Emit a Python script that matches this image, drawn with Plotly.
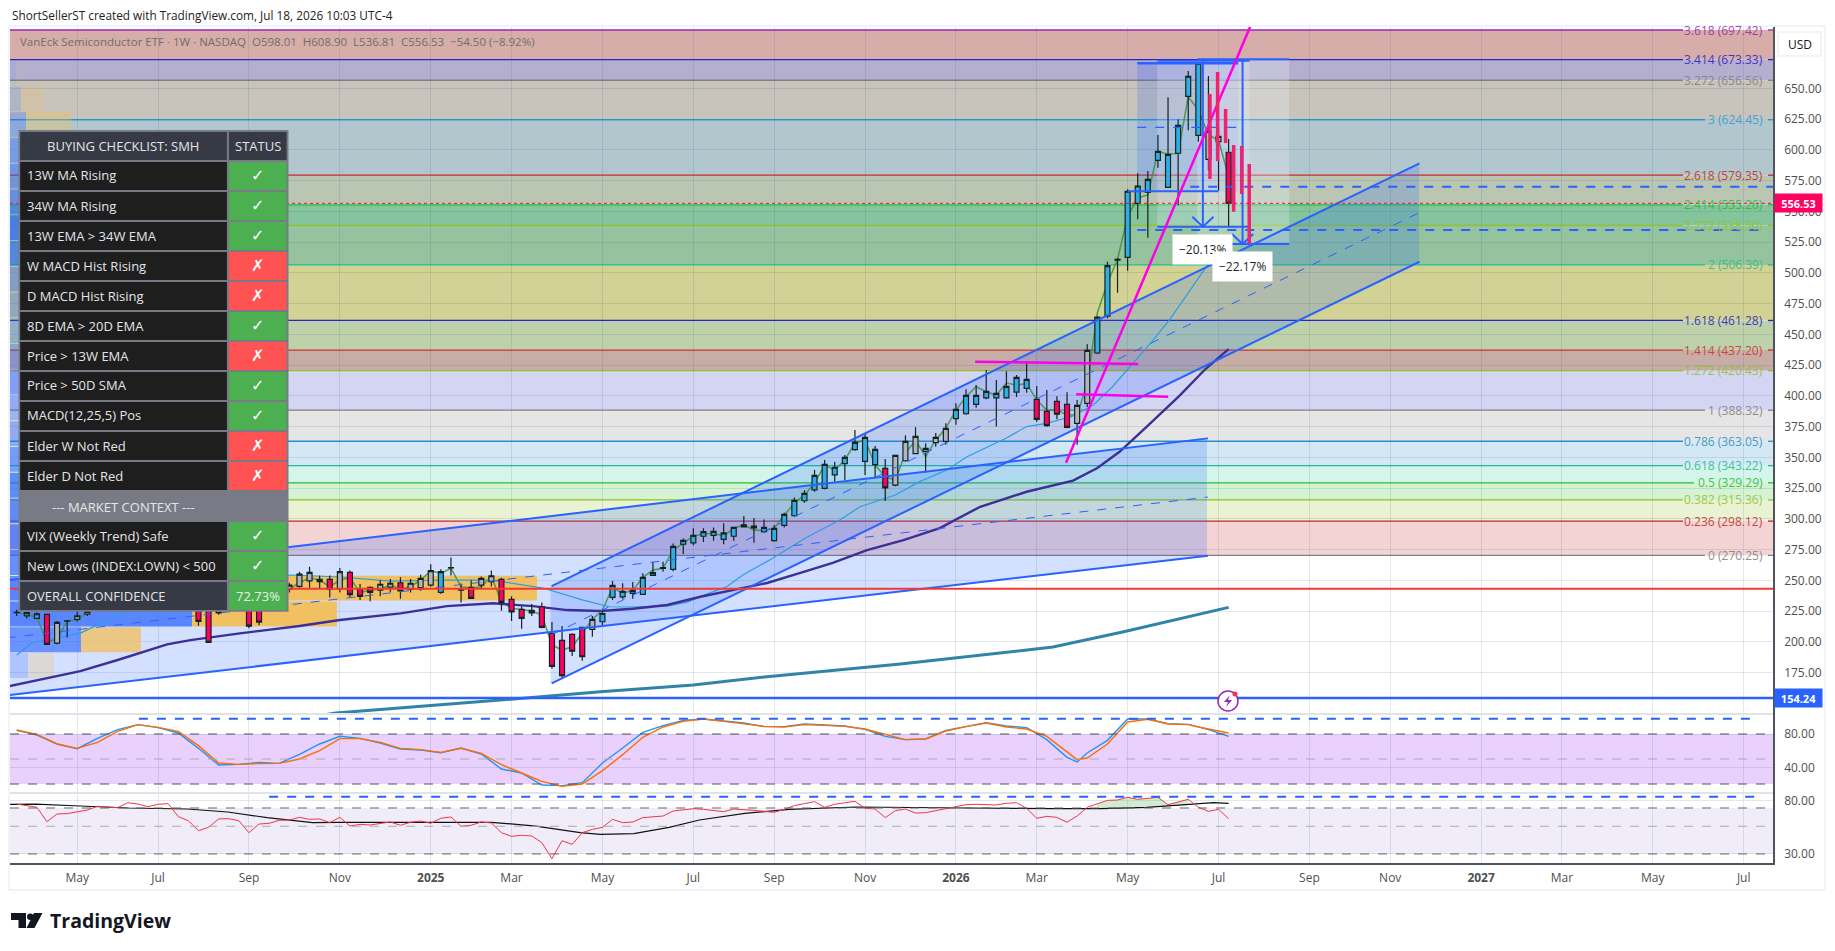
import pandas as pd
import plotly.graph_objects as go

W, H = 1835, 951
FONT = "Open Sans"
LAST_WEEK = pd.Timestamp("2026-07-13")

# weekly candles, oldest first (weeks before the last bar), hidden ones under the table are left out
bar_weeks = [120, 119, 118, 117, 116, 115, 114, 113, 102, 101, 100, 97, 96, 93, 92, 91, 90, 89, 88, 87, 86, 85, 84, 83, 82, 81, 80, 79, 78, 77, 76, 75, 74, 73, 72, 71, 70, 69, 68, 67, 66, 65, 64, 63, 62, 61, 60, 59, 58, 57, 56, 55, 54, 53, 52, 51, 50, 49, 48, 47, 46, 45, 44, 43, 42, 41, 40, 39, 38, 37, 36, 35, 34, 33, 32, 31, 30, 29, 28, 27, 26, 25, 24, 23, 22, 21, 20, 19, 18, 17, 16, 15, 14, 13, 12, 11, 10, 9, 8, 7, 6, 5, 4, 3, 2, 1, 0]
opens = [223.8, 221, 219, 222.3, 198.9, 216.7, 218.2, 222.5, 226, 226, 228, 235, 232, 242.7, 245, 249.6, 248.9, 250.8, 243.1, 256.5, 242.6, 244.2, 242, 244.4, 248, 242.7, 244, 246.1, 240.2, 260, 242, 244.2, 246.1, 249, 250.8, 234.5, 226.4, 225.6, 228.5, 206.9, 201.2, 206.1, 211.7, 210.1, 216.3, 236.2, 236.6, 239.4, 238.6, 254, 259.7, 258.9, 279.3, 280.5, 285.8, 286.5, 283.3, 285.8, 293.5, 292.7, 289.5, 282.2, 294.7, 302.5, 314.7, 323.6, 324.8, 335.8, 344.8, 356.2, 346.7, 344, 341, 327.4, 347.2, 353, 354.9, 361.9, 363, 381.4, 385.4, 393, 398.4, 398.4, 398.4, 403, 406, 397.1, 387.4, 395.5, 393, 377.6, 393.9, 434.8, 464.8, 510.4, 512.6, 556.5, 565.4, 591.5, 569.5, 597.2, 643.5, 611.8, 592.3, 606.6, 598.01]
highs = [226, 224.5, 224, 223, 217, 217.7, 225, 227, 229, 229, 230, 238, 235, 248, 257, 261, 254, 254, 260, 258, 247, 245, 250, 251, 252.4, 251, 254.5, 263, 259, 268.6, 247.5, 250, 253, 258, 252, 237, 229, 230.7, 232, 216, 212.8, 207, 212.3, 220.9, 226, 249.4, 247.6, 248.6, 255.7, 264.8, 265, 280, 284, 292.3, 292.3, 293, 296.3, 293.6, 302.3, 300.6, 299.5, 295, 305, 317.4, 323.3, 339.7, 347.8, 346.4, 351.8, 372.2, 368.9, 359.2, 348.6, 352, 368, 374.4, 361.4, 369.7, 377.6, 394, 405.3, 408.8, 421, 412.8, 420, 417, 428.3, 407.9, 404.7, 399.6, 402.8, 396.6, 441.9, 464.5, 509, 512, 568, 580.9, 582.8, 612, 642.7, 624.8, 664, 671, 660, 618.8, 608.9]
lows = [221, 219, 218.5, 197.5, 198, 203.5, 216.5, 221, 213, 199, 222, 211, 213.4, 240, 244, 244, 243, 236, 240, 236, 234, 233, 237, 240.5, 235, 240, 241.6, 244.8, 239, 254, 231.9, 235, 243, 245, 225.2, 217, 210.6, 220.9, 211, 178, 169.7, 188.4, 184.6, 204.1, 213.4, 234, 234.5, 235, 238, 254, 257, 257.3, 271.4, 278.4, 281.1, 282.2, 279.3, 282.2, 293, 280.5, 288.7, 281.4, 293, 301.7, 313.1, 322, 324, 330.1, 331.5, 355.4, 335.6, 333, 314.4, 326.5, 346.4, 352.4, 337.5, 358.6, 360.2, 376.5, 384.6, 390.3, 397.2, 375, 397.6, 399, 402.5, 379, 374.9, 381, 373.6, 360.2, 391, 434, 463, 483.8, 501.7, 543.5, 528.5, 585.4, 569, 555, 616, 606.6, 583, 567, 536.81]
closes = [223.9, 223.8, 222.8, 197.9, 215.8, 217, 221.2, 224.7, 216.6, 199.5, 223.4, 212.7, 216, 246.1, 255, 256.5, 250.8, 242.7, 257, 238.3, 237, 240.2, 246.8, 247.6, 241.3, 247.6, 251.6, 257.8, 257, 260.4, 242.5, 235.3, 251.6, 253.7, 232, 224.4, 219, 223.6, 211.7, 180, 172.4, 192.3, 188, 218.3, 223, 245.9, 241, 241.8, 252.4, 256.2, 260.4, 277.6, 282.5, 286.5, 289.5, 289.8, 288.6, 293, 295, 294.1, 293, 292.3, 303.6, 315, 320.7, 335.3, 344.3, 341.9, 350, 362.2, 366.2, 356.4, 325.2, 351.6, 363, 367, 357.3, 366.2, 373.6, 389, 400.4, 400.4, 403.6, 402, 407.7, 415, 413.4, 380.9, 375.7, 385, 374.4, 392.3, 437, 464, 505.8, 511, 566.3, 570.6, 576, 598.8, 596.3, 619.9, 659.8, 670.3, 615, 611, 556.53]
tones = list("gbbpggggppgppggggpgpppggpgggbggpggppppppppp" "gbbbbbbgbbbbbbbggbbbbbbbbbbbbp" "ggggggbbbbbbbbppppggbbgbbbbbbbbggp")

# thin green close-type line
close_line_weeks = [120, 119, 118, 117, 116, 115, 114, 113, 103, 93, 92, 91, 90, 89, 88, 87, 86, 85, 84, 83, 82, 81, 80, 79, 78, 77, 76, 75, 74, 73, 72, 71, 70, 69, 68, 67, 66, 65, 64, 63, 62, 61, 60, 59, 58, 57, 56, 55, 54, 53, 52, 51, 50, 49, 48, 47, 46, 45, 44, 43, 42, 41, 40, 39, 38, 37, 36, 35, 34, 33, 32, 31, 30, 29, 28, 27, 26, 25, 24, 23, 22, 21, 20, 19, 18, 17, 16, 15, 14, 13, 12, 11, 10, 9, 8, 7, 6, 5, 4, 3, 2, 1, 0]
close_line = [224, 222, 220, 200, 202, 217, 218, 224, None, 243, 248, 252, 250, 245, 250, 252, 240, 242, 243, 246, 243, 245, 250, 257.8, 255.6, 259.7, 244.8, 243.7, 244.8, 253, 232.5, 227.2, 225.8, 225, 221.8, 197.4, 193.3, 196, 206.9, 218.3, 225.8, 244.2, 239.4, 241.8, 252.4, 258.3, 259.7, 274.6, 280, 286, 287.6, 288.2, 286, 292.3, 295, 291, 290.3, 292.3, 303, 312.6, 319.3, 328.8, 343.7, 339.6, 347.8, 361.5, 364, 343.7, 334.2, 331.5, 353.2, 364, 350.5, 364, 373.6, 388.4, 399.3, 407.4, 403.3, 400.6, 410.4, 408.8, 410, 396.6, 388.4, 388.4, 384.4, 384.4, 410, 467.3, 491.7, 511, 545.6, 561, 563.2, 598.8, 596.4, 597.2, 643.2, 632.4, 612, 608, 578.1]

ma13_weeks = [120, 118.5, 113.7, 108.5, 92.9, 88, 83, 78, 73, 67.9, 63.9, 61.3, 59, 55.6, 53.6, 51.7, 49.7, 48.1, 45.1, 41.9, 38.5, 36.5, 34.5, 33, 30.6, 27.9, 25.9, 23.9, 22, 20, 18, 15.4, 13.4, 11.5, 9.5, 7.6, 5.8, 2.2, 0]
ma13 = [189.2, 199, 207.1, 227.4, 254.3, 252.7, 249.4, 250.2, 250.2, 243.7, 233.9, 228.5, 228.3, 229, 232.3, 238.8, 244.8, 254.3, 268.1, 284.4, 299, 309.8, 315.3, 319.3, 330.2, 339.7, 350.5, 358.6, 365.7, 375, 377.6, 383.6, 392.5, 407.4, 426.6, 444, 462.4, 505, 526.7]
ma40_weeks = [120.7, 113.7, 110, 105.1, 102.8, 97.9, 92, 88, 82, 77.4, 72.8, 68.9, 65.5, 62.2, 59, 55.6, 52.3, 49.1, 45.7, 42.4, 39.2, 35.8, 32.2, 28.6, 24.6, 20, 15.4, 13, 10.8, 8.1, 4.8, 2.3, 0]
ma40 = [164, 176.2, 185.2, 197.9, 201.4, 206.9, 212.8, 217.7, 223.1, 229, 231.3, 229, 225.8, 225, 226.9, 229.9, 236.6, 242.1, 247.8, 256, 264.1, 274.6, 282.7, 292.5, 309.8, 322, 331, 341.3, 354.5, 374.9, 400.6, 421.8, 438]
ma200_weeks = [90, 88.4, 72.1, 62.2, 53, 45.7, 32.5, 17.4, 10.5, 0]
ma200 = [140, 142.1, 152.6, 159.4, 164.8, 171.6, 181.9, 195.7, 208, 228]

# Fibonacci levels
fib_names = ["3.618", "3.414", "3.272", "3", "2.618", "2.414", "2.272", "2", "1.618", "1.414", "1.272", "1", "0.786", "0.618", "0.5", "0.382", "0.236", "0"]
fib_prices = [697.42, 673.33, 656.56, 624.45, 579.35, 555.26, 538.50, 506.39, 461.28, 437.20, 420.43, 388.32, 363.05, 343.22, 329.29, 315.36, 298.12, 270.25]
fib_colors = ["#9c27b0", "#2a22c8", "#808080", "#2a9fd8", "#c62828", "#22c02e", "#8fc31f", "#22bf8e", "#2a22c8", "#d32f2f", "#8fc31f", "#808080", "#2a8fc8", "#22b896", "#22c02e", "#8fc31f", "#c62828", "#808080"]
fib_fills = ["#d6ada8", "#b4aecf", "#c8c3bb", "#b2c6cd", "#bbc6b2", "#85c49c", "#95c39d", "#d2d294", "#bdd2aa", "#c6aea6", "#d4d4f3", "#e5e5e5", "#d3e8f3", "#d3f5ea", "#d5f2d5", "#e9f3d3", "#f3d3d3"]

# visible range volume profile, top row first
vp_prices = [662.4, 641.5, 620.5, 599.6, 578.6, 557.7, 536.8, 515.8, 494.9, 473.9, 453, 432, 411.1, 390.2, 369.2, 348.3, 327.3, 306.4, 285.4, 264.5, 243.6, 222.6, 201.7, 180.7]
vp_up = [6, 11, 16, 30, 35, 40, 60, 50, 40, 30, 25, 30, 40, 30, 35, 50, 60, 70, 90, 140, 260, 182, 71, 18]
vp_down = [5, 22, 45, 60, 70, 80, 90, 80, 60, 50, 40, 50, 60, 50, 60, 70, 90, 100, 130, 130, 267, 145, 60, 26]

# stochastic pane
stoch_weeks = [120, 118, 116, 114, 112, 110, 108, 106, 104, 102, 100, 98, 96, 94, 92, 90, 88, 86, 84, 82, 80, 78, 76, 74, 72, 70, 68, 66, 64, 62, 60, 58, 56, 54, 52, 50, 48, 46, 44, 42, 40, 38, 36, 34, 32, 30, 28, 26, 24, 22, 20, 18, 16, 15, 14, 12, 10, 8, 6, 4, 2, 0]
stoch_k = [84.4, 78.8, 68, 62.4, 74.8, 85.2, 91.2, 87.6, 81.2, 62.8, 42.8, 43.6, 46, 44.8, 55.6, 68, 77.2, 74.8, 69.2, 62, 60.8, 57.6, 63.2, 56, 38, 33.2, 18.8, 18, 21.6, 45.2, 63.2, 82, 90, 96.4, 98, 96, 93.2, 88.8, 88.8, 92, 90.8, 89.6, 85.6, 77.2, 73.2, 74, 84.4, 89.2, 93.6, 89.6, 87.6, 73.2, 52, 46.4, 57.2, 72.4, 98, 98, 92.4, 91.6, 85.2, 77.2]
stoch_d = [84.8, 79.6, 68, 62.8, 70, 83.2, 91.2, 88, 83.2, 66, 45.2, 43.6, 44.4, 44.8, 50, 60, 74.4, 74.4, 70, 62.8, 61.2, 58, 62.8, 56.8, 43.2, 33.6, 23.2, 17.2, 20, 36, 55.2, 76, 88.4, 95.2, 98, 95.2, 92, 89.2, 88.4, 91.2, 90.4, 89.2, 86, 79.6, 73.2, 74, 83.6, 88.8, 93.2, 88.4, 86, 77.2, 59.2, 49.2, 51.2, 68, 94.4, 97.6, 92, 91.2, 86, 81.2]

# RSI pane, one value per week from 120 weeks back to the last bar
rsi = [75.3, 73.1, 70.9, 54.4, 62.7, 63.1, 65, 67.4, 72.2, 71.7, 70.4, 77.2, 75.3, 71.7, 74.9, 75.8, 59.7, 55.4, 46.1, 49, 57.2, 57.5, 55.4, 44.4, 52.1, 52.8, 55.8, 56.1, 58.9, 56.8, 57.2, 53.4, 58.9, 50.2, 51.8, 51.2, 52.8, 54.1, 50.9, 53.8, 55.1, 52.8, 57.9, 59.3, 50, 50.9, 54.1, 53.1, 44.4, 41.5, 42.3, 41.8, 37, 27.5, 38.3, 35.8, 44.4, 47.2, 49, 56.8, 53.4, 54.1, 58.6, 59.7, 60.4, 66.2, 67.4, 69.1, 68.3, 66.6, 65.4, 68.7, 68.3, 67, 65.8, 64.6, 68.3, 73.1, 75.8, 78.7, 70.9, 74.9, 77.2, 79.1, 69.6, 68.7, 58.6, 66.6, 68.7, 63.8, 64.2, 66.6, 68.3, 71.7, 74.4, 74.9, 74.9, 74, 76.3, 77.2, 69.6, 57.9, 60, 58.9, 53.8, 60.4, 70.9, 75.8, 80.6, 81.1, 85.2, 82.1, 83.6, 85.2, 74.4, 78.7, 82.1, 70.9, 65.8, 68.3, 57.5]
rsi_ma_weeks = [120.7, 118.1, 113.7, 108.9, 103.1, 99.1, 95.2, 90.7, 88.1, 81.9, 73, 68.6, 64.2, 62.2, 58.9, 55.4, 52.4, 47.9, 43.5, 36.9, 30.3, 25.8, 17, 12.6, 8.1, 4.6, 1.5, 0]
rsi_ma = [74.9, 75.3, 72.6, 70, 68.7, 65, 58.6, 53.4, 53.8, 54.1, 53.8, 50.2, 44.4, 43.1, 43.7, 49, 56.1, 63.4, 68.3, 71.3, 70, 70, 69.1, 69.1, 70.9, 74, 77.2, 76.3]
rsi_gap_weeks = [13, 12, 11, 10, 9, 8, 7, 6, 5, 4, 4, 8, 13]
rsi_gap = [75.8, 80.6, 81.1, 85.2, 82.1, 83.6, 85.2, 74.4, 78.7, 82.1, 73.5, 70.9, 69.1]

# drawings
pink_bar_weeks = [1.85, 1.09, 0.3, -0.5, -1.29, -2.04]
pink_bar_high = [645.4, 663.3, 633.2, 603.9, 603.1, 588.5]
pink_bar_low = [576.3, 590.9, 605.5, 549.7, 564.1, 523.7]

x_tick_dates = ["2024-05-06", "2024-07-01", "2024-09-02", "2024-11-04", "2025-01-06", "2025-03-03", "2025-05-05", "2025-07-07", "2025-09-01", "2025-11-03", "2026-01-05", "2026-03-02", "2026-05-04", "2026-07-06", "2026-09-07", "2026-11-02", "2027-01-04", "2027-03-01", "2027-05-03", "2027-07-05"]
x_tick_text = ["May", "Jul", "Sep", "Nov", "<b>2025</b>", "Mar", "May", "Jul", "Sep", "Nov", "<b>2026</b>", "Mar", "May", "Jul", "Sep", "Nov", "<b>2027</b>", "Mar", "May", "Jul"]
price_ticks = [175, 200, 225, 250, 275, 300, 325, 350, 375, 400, 425, 450, 475, 500, 525, 550, 575, 600, 625, 650]

table_rows = ["13W MA Rising", "34W MA Rising", "13W EMA > 34W EMA", "W MACD Hist Rising", "D MACD Hist Rising", "8D EMA > 20D EMA", "Price > 13W EMA", "Price > 50D SMA", "MACD(12,25,5) Pos", "Elder W Not Red", "Elder D Not Red", "--- MARKET CONTEXT ---", "VIX (Weekly Trend) Safe", "New Lows (INDEX:LOWN) < 500"]
table_pass = [True, True, True, False, False, True, False, True, True, False, False, None, True, True]


def week(n):
    return LAST_WEEK - pd.Timedelta(weeks=n)


def weeks(ns):
    return [week(n) for n in ns]


def fx(px):
    return px / W


def fy(py):
    return 1 - py / H


fig = go.Figure()
BLUE = "#2962ff"
MAGENTA = "#ff00e6"
GRID = "rgba(42,80,130,0.13)"
CH_FILL = "rgba(41,98,255,0.2)"

shapes = []
annotations = []
tint_shapes = []

# volume profile, sits under the candles
ms_per_unit = 7 * 86400000 / 10.1
start = week(120.66)
fig.add_trace(go.Bar(y=vp_prices, x=[v * ms_per_unit for v in vp_up], base=[start] * len(vp_up), orientation="h", width=20.2,
                     marker=dict(color=["rgba(41,98,255,%.2f)" % min(0.72, (a + b) / 150 * 0.7) for a, b in zip(vp_up, vp_down)], line_width=0)))
fig.add_trace(go.Bar(y=vp_prices, x=[v * ms_per_unit for v in vp_down], base=[start + pd.Timedelta(milliseconds=a * ms_per_unit) for a in vp_up], orientation="h", width=20.2,
                     marker=dict(color=["rgba(244,190,80,%.2f)" % min(0.9, (a + b) / 150 * 0.8) for a, b in zip(vp_up, vp_down)], line_width=0)))

fig.add_trace(go.Scatter(x=weeks(close_line_weeks), y=close_line, mode="lines", line=dict(color="rgba(56,142,60,0.8)", width=1.6)))
fig.add_trace(go.Scatter(x=weeks(ma13_weeks), y=ma13, mode="lines", line=dict(color="#2a9fe0", width=1.2)))
fig.add_trace(go.Scatter(x=weeks(ma40_weeks), y=ma40, mode="lines", line=dict(color="#3c2f96", width=2.4)))
fig.add_trace(go.Scatter(x=weeks(ma200_weeks), y=ma200, mode="lines", line=dict(color="#2f84a8", width=3)))

# candles on an overlay axis so they stay above the lines
tone_colors = {"b": "#2eaee6", "p": "#ff0062", "g": "#b2b5be"}
df = pd.DataFrame(dict(d=weeks(bar_weeks), o=opens, h=highs, l=lows, c=closes, t=tones))
for tone, color in tone_colors.items():
    part = df[df.t == tone]
    fig.add_trace(go.Candlestick(x=part.d, open=part.o, high=part.h, low=part.l, close=part.c, yaxis="y4",
                                 increasing=dict(line=dict(color="#14231c", width=1.2), fillcolor=color),
                                 decreasing=dict(line=dict(color="#14231c", width=1.2), fillcolor=color)))


def channel(n0, n1, top0, top1, low0, low1):
    # tint goes under the grid and candles, the three lines stay on top
    corners = [(n0, top0), (n1, top1), (n1, low1), (n0, low0)]
    path = "M " + " L ".join("%s,%s" % (week(n).strftime("%Y-%m-%d"), p) for n, p in corners) + " Z"
    tint_shapes.append(dict(type="path", xref="x", yref="y", path=path, fillcolor=CH_FILL, line_width=0, layer="below"))
    fig.add_trace(go.Scatter(x=weeks([n0, n1]), y=[top0, top1], mode="lines", line=dict(color=BLUE, width=2), yaxis="y5"))
    fig.add_trace(go.Scatter(x=weeks([n0, n1]), y=[low0, low1], mode="lines", line=dict(color=BLUE, width=2), yaxis="y5"))
    fig.add_trace(go.Scatter(x=weeks([n0, n1]), y=[(top0 + low0) / 2, (top1 + low1) / 2], mode="lines", line=dict(color=BLUE, width=1, dash="dash"), yaxis="y5"))


def tint_rect(n0, n1, p0, p1, color):
    tint_shapes.append(dict(type="rect", xref="x", yref="y", x0=week(n0), x1=week(n1), y0=p0, y1=p1, fillcolor=color, line_width=0, layer="below"))


channel(131.6, 2.05, 239.6, 365.4, 146.3, 270)
channel(67.03, -18.9, 245.3, 589, 166.2, 509)


def seg(ns, ps, color=BLUE, width=2, dash=None, yaxis="y5"):
    fig.add_trace(go.Scatter(x=weeks(ns), y=ps, mode="lines", line=dict(color=color, width=width, dash=dash), yaxis=yaxis))


# rectangle and two price range measures at the top
tint_rect(9.05, -0.95, 566, 670.3, CH_FILL)
tint_rect(7.06, -2.05, 537.5, 672.4, "rgba(235,240,250,0.25)")
tint_rect(3.1, -6, 523.4, 673.6, "rgba(235,240,250,0.3)")
seg([9.05, -0.95], [670.3, 670.3], width=2.5)
seg([9.05, -0.95], [618.3, 618.3], width=1.2, dash="dash")
seg([10, 1], [566.3, 566.3])
seg([7.06, -2.05], [672.4, 672.4])
seg([7.06, -2.05], [537.5, 537.5])
seg([3.1, -6], [673.6, 673.6])
seg([3.1, -6], [523.4, 523.4])
seg([2.55, 2.55], [672.4, 537.5])
seg([3.6, 2.55, 1.49], [545.6, 537.5, 545.6])
seg([-1.38, -1.38], [673.6, 523.4])
seg([-0.33, -1.38, -2.44], [531.5, 523.4, 531.5])
seg([3.8, -54], [570, 570], dash="dash")
seg([9.05, -53], [534.8, 534.8], dash="dash")

seg([16.1, -3], [345.6, 717], color=MAGENTA, width=2.5)
seg([25.1, 8.95], [427.7, 425.8], color=MAGENTA, width=2.5)
seg([15.1, 5.98], [401.2, 399.3], color=MAGENTA, width=2.5)
for n, hi, lo in zip(pink_bar_weeks, pink_bar_high, pink_bar_low):
    seg([n, n], [hi, lo], color="#f0246e", width=3.5)

# stochastic and RSI panes
fig.add_trace(go.Scatter(x=weeks(stoch_weeks), y=stoch_k, mode="lines", line=dict(color="#2196f3", width=1.4), yaxis="y2"))
fig.add_trace(go.Scatter(x=weeks(stoch_weeks), y=stoch_d, mode="lines", line=dict(color="#ff6d00", width=1.4), yaxis="y2"))
fig.add_trace(go.Scatter(x=weeks(rsi_gap_weeks), y=rsi_gap, mode="none", fill="toself", fillcolor="rgba(76,175,80,0.25)", yaxis="y3"))
fig.add_trace(go.Scatter(x=weeks(rsi_ma_weeks), y=rsi_ma, mode="lines", line=dict(color="#111111", width=1.2), yaxis="y3"))
fig.add_trace(go.Scatter(x=weeks(range(120, -1, -1)), y=rsi, mode="lines", line=dict(color="#f23645", width=1), yaxis="y3"))
seg([107.9, -52.5], [98.4, 98.4], dash="dash", yaxis="y2")
seg([95, -52.5], [86.1, 86.1], dash="dash", yaxis="y3")

# fib bands, lines and labels
for i, p in enumerate(fib_prices):
    if i < len(fib_fills):
        shapes.append(dict(type="rect", xref="x domain", yref="y", x0=0, x1=1, y0=p, y1=fib_prices[i + 1], fillcolor=fib_fills[i], line_width=0, layer="below"))
    text = "%s (%.2f)" % (fib_names[i], p)
    shapes.append(dict(type="line", xref="paper", yref="y", x0=fx(10), x1=fx(1760 - 5.5 * len(text)), y0=p, y1=p, line=dict(color=fib_colors[i], width=1.3), layer="below"))
    shapes.append(dict(type="line", xref="paper", yref="y", x0=fx(1768), x1=fx(1773), y0=p, y1=p, line=dict(color=fib_colors[i], width=1.3), layer="below"))
    annotations.append(dict(xref="paper", yref="y", x=fx(1765), y=p, text=text, showarrow=False, xanchor="right", yanchor="middle", font=dict(color=fib_colors[i], size=12, family=FONT), opacity=0.85))
shapes.extend(tint_shapes)

# horizontal price lines
shapes.append(dict(type="line", xref="x domain", yref="y", x0=0, x1=1, y0=243.1, y1=243.1, line=dict(color="#f23a30", width=2)))
shapes.append(dict(type="line", xref="x domain", yref="y", x0=0, x1=1, y0=154.24, y1=154.24, line=dict(color=BLUE, width=2.5)))
shapes.append(dict(type="line", xref="x domain", yref="y", x0=0, x1=1, y0=556.53, y1=556.53, line=dict(color="#ff0062", width=1, dash="dot")))

# pane bands and guide lines
shapes.append(dict(type="rect", xref="x domain", yref="y2", x0=0, x1=1, y0=20, y1=80, fillcolor="#e9d0fd", line_width=0, layer="below"))
shapes.append(dict(type="rect", xref="x domain", yref="y3", x0=0, x1=1, y0=30, y1=70, fillcolor="#f0edf9", line_width=0, layer="below"))
for ref, val, col in [("y2", 80, "#555"), ("y2", 50, "#aaa"), ("y2", 20, "#555"), ("y3", 70, "#666"), ("y3", 50, "#aaa"), ("y3", 30, "#666")]:
    shapes.append(dict(type="line", xref="x domain", yref=ref, x0=0, x1=1, y0=val, y1=val, line=dict(color=col, width=1, dash="dash")))

# chart frame and pane separators
shapes.append(dict(type="rect", xref="paper", yref="paper", x0=fx(9), x1=fx(1825), y0=fy(890), y1=fy(26), line=dict(color="#f0f3fa", width=2), layer="below"))
for py in [714, 793]:
    shapes.append(dict(type="line", xref="paper", yref="paper", x0=fx(10), x1=fx(1773), y0=fy(py), y1=fy(py), line=dict(color="#e0e3eb", width=2)))


def box(x0, x1, y0, y1, color):
    shapes.append(dict(type="rect", xref="paper", yref="paper", x0=fx(x0), x1=fx(x1), y0=fy(y1), y1=fy(y0), fillcolor=color, line_width=0))


def label(x, y, text, color="#e4e5e8", size=13, anchor="left", family=FONT):
    annotations.append(dict(xref="paper", yref="paper", x=fx(x), y=fy(y), text=text, showarrow=False, xanchor=anchor, yanchor="middle", font=dict(color=color, size=size, family=family)))


# checklist table
box(18.5, 288.5, 130, 611.7, "#787b86")
box(20.2, 226.9, 132, 160, "#363a45")
box(228.9, 286.6, 132, 160, "#363a45")
label(123.5, 146, "BUYING CHECKLIST: SMH", anchor="center")
label(257.7, 146, "STATUS", anchor="center")
for i, (name, ok) in enumerate(zip(table_rows, table_pass)):
    top = 162 + 30 * i
    if ok is None:
        label(123.5, top + 14.5, name, anchor="center")
        continue
    box(20.2, 226.9, top, top + 28, "#1e1e1e")
    box(228.9, 286.6, top, top + 28, "#4caf50" if ok else "#ff5252")
    label(25, top + 13.5, name)
    label(257.7, top + 13.5, "<b>✓</b>" if ok else "<b>✗</b>", color="#ffffff", size=16, anchor="center", family="DejaVu Sans")
box(20.2, 226.9, 582, 610, "#363a45")
box(228.9, 286.6, 582, 610, "#4caf50")
label(25, 595.5, "OVERALL CONFIDENCE")
label(257.7, 595.5, "72.73%", color="#e8f5e9", anchor="center")

# header, legend and logo
label(9.5, 14.5, "ShortSellerST created with TradingView.com, Jul 18, 2026 10:03 UTC-4", color="#222222", size=11.8)
label(18, 41.5, "VanEck Semiconductor ETF · 1W · NASDAQ  O598.01  H608.90  L536.81  C556.53  −54.50 (−8.92%)", color="#6f6f6f", size=11.5)
label(47.5, 920, "<b>TradingView</b>", color="#131722", size=19.5)
shapes.append(dict(type="path", xref="paper", yref="paper", path="M %f %f L %f %f L %f %f L %f %f L %f %f L %f %f Z" % (fx(11), fy(913), fx(26), fy(913), fx(26), fy(928), fx(18.5), fy(928), fx(18.5), fy(920), fx(11), fy(920)), fillcolor="#131722", line_width=0))
shapes.append(dict(type="path", xref="paper", yref="paper", path="M %f %f L %f %f L %f %f L %f %f Z" % (fx(34), fy(913), fx(42.5), fy(913), fx(34.5), fy(928), fx(26.5), fy(928)), fillcolor="#131722", line_width=0))
shapes.append(dict(type="circle", xref="paper", yref="paper", x0=fx(27), x1=fx(33.5), y0=fy(920), y1=fy(913.5), fillcolor="#131722", line_width=0))

# USD button and price tags
shapes.append(dict(type="rect", xref="paper", yref="paper", x0=fx(1778), x1=fx(1821), y0=fy(56), y1=fy(32), fillcolor="#ffffff", line=dict(color="#eef0f4", width=1.5)))
label(1799.5, 44.5, "USD", color="#131722", size=12, anchor="center")
annotations.append(dict(xref="paper", yref="y", x=fx(1774), y=556.53, text="<b>556.53</b>", showarrow=False, xanchor="left", width=45, height=16, bgcolor="#ff0062", font=dict(color="#fff", size=11, family=FONT)))
annotations.append(dict(xref="paper", yref="y", x=fx(1774), y=154.24, text="<b>154.24</b>", showarrow=False, xanchor="left", width=45, height=16, bgcolor=BLUE, font=dict(color="#fff", size=11, family=FONT)))

# measure labels
annotations.append(dict(x=week(2.55), y=697.42 - (249.7 - 30) * 0.8131, text="−20.13%", showarrow=False, bgcolor="#ffffff", borderpad=6, font=dict(color="#222", size=12, family=FONT)))
annotations.append(dict(x=week(-1.38), y=697.42 - (266.3 - 30) * 0.8131, text="−22.17%", showarrow=False, bgcolor="#ffffff", borderpad=6, font=dict(color="#222", size=12, family=FONT)))

# alert badge on the 154.24 line
shapes.append(dict(type="circle", xref="paper", yref="paper", x0=fx(1218), x1=fx(1238), y0=fy(711), y1=fy(691), fillcolor="#ffffff", line=dict(color="#9c27b0", width=1.5)))
shapes.append(dict(type="path", xref="paper", yref="paper", path="M %f %f L %f %f L %f %f L %f %f L %f %f L %f %f Z" % (fx(1230), fy(695), fx(1224), fy(702), fx(1228), fy(702), fx(1226), fy(707), fx(1232), fy(700), fx(1228), fy(700)), fillcolor="#9c27b0", line_width=0))
shapes.append(dict(type="circle", xref="paper", yref="paper", x0=fx(1232.5), x1=fx(1237.5), y0=fy(696.5), y1=fy(691.5), fillcolor="#f23645", line_width=0))

axis_font = dict(color="#4f4f4f", size=12, family=FONT)
x_range = [week(120.66), week(-53.9)]
y_axis = dict(side="right", anchor="x", showline=True, linecolor="#50535e", linewidth=1.5, zeroline=False, gridcolor=GRID, gridwidth=1,
              tickmode="array", tickfont=axis_font, ticks="outside", ticklen=7, tickcolor="rgba(0,0,0,0)")
main_range = [141.3, 699.86]
main_domain = [fy(714), fy(27)]

fig.update_layout(
    width=W, height=H, margin=dict(l=0, r=0, t=0, b=0), showlegend=False, paper_bgcolor="#ffffff", plot_bgcolor="#ffffff",
    barmode="overlay", hovermode=False,
    xaxis=dict(domain=[fx(10), fx(1773)], range=x_range, type="date", anchor="y3", showline=True, linecolor="#50535e", linewidth=1.5,
               tickmode="array", tickvals=x_tick_dates, ticktext=x_tick_text, tickfont=axis_font, gridcolor=GRID, gridwidth=1,
               ticks="outside", ticklen=3, tickcolor="rgba(0,0,0,0)", rangeslider=dict(visible=False)),
    yaxis=dict(y_axis, domain=main_domain, range=main_range, tickvals=price_ticks, ticktext=["%.2f" % t for t in price_ticks]),
    yaxis2=dict(y_axis, domain=[fy(793), fy(714)], range=[9.2, 104], tickvals=[40, 80], ticktext=["40.00", "80.00"]),
    yaxis3=dict(y_axis, domain=[fy(863), fy(793)], type="log", range=[1.405, 1.965], tickvals=[30, 80], ticktext=["30.00", "80.00"]),
    yaxis4=dict(domain=main_domain, range=main_range, overlaying="y", anchor="x", visible=False),
    yaxis5=dict(domain=main_domain, range=main_range, overlaying="y", anchor="x", visible=False),
    shapes=shapes, annotations=annotations,
)

fig.write_html("out.html", config=dict(displayModeBar=False), post_script="document.body.style.margin='0';")
